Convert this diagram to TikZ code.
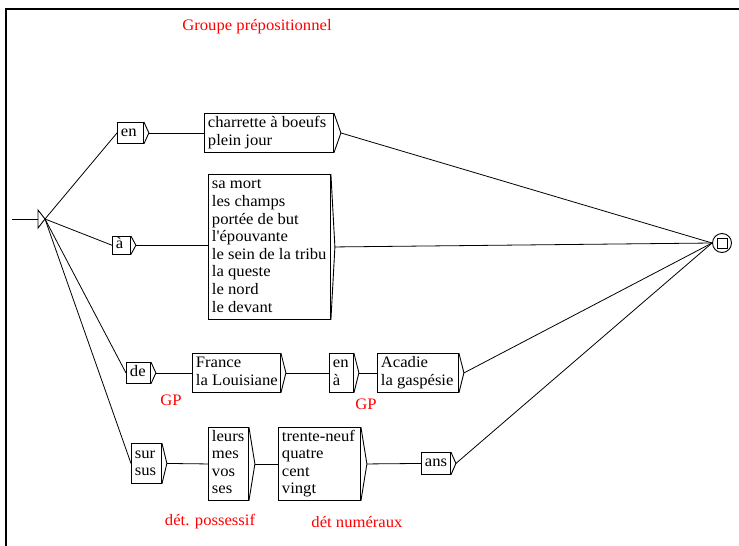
\documentclass[tikz,border=0pt]{standalone}
\usepackage{fontspec}
\setmainfont{Liberation Serif}[FakeStretch=1.04, Ligatures=TeXOff]
\definecolor{ured}{RGB}{255,0,0}
\tikzset{
  edge/.style={line width=0.8pt, black},
  ubx/.style={draw, line width=0.9pt, rectangle, anchor=north west,
              inner xsep=3.5pt, inner ysep=0pt},
  lbl/.style={text=ured, inner sep=0pt},
}
\newcommand\ubox[7][6]{%
  \pgfmathsetmacro\ubtw{#5-7}%
  \node[ubx, minimum width=#5pt, minimum height=#6pt] (#2) at (#3,#4)
    {\makebox[\ubtw pt][l]{\begin{tabular}{@{}l@{}}#7\end{tabular}}};
  \draw[line width=0.9pt] (#2.north east) -- ([xshift=#1pt]#2.east) coordinate (#2-o) -- (#2.south east);
}
\begin{document}
\begin{tikzpicture}[x=1pt, y=-1pt, font=\fontsize{16}{17.6}\selectfont]
\useasboundingbox (0,0) rectangle (739,546);
% frame
\draw[line width=2pt] (6,546) -- (6,9) -- (739,9);
% title
\node[lbl] (title) at (257,27) {Groupe prépositionnel};
% initial state
\coordinate (start) at (12,219);
\coordinate (init) at (45,219);
\draw[edge] (start) -- (38,219);
\draw[line width=0.9pt] (38,210) -- (init) -- (38,228) -- cycle;
% final state
\node[draw, circle, line width=0.9pt, minimum size=19pt, inner sep=0pt] (final) at (722,243) {};
\node[draw, rectangle, line width=0.9pt, minimum size=10pt, inner sep=0pt] (finalsq) at (722,243) {};
% boxes
\ubox[5]{en}{117}{122}{26}{21}{en}
\ubox[7]{charrette}{204}{113}{129}{39}{charrette à boeufs\\plein jour}
\ubox[5]{a}{112}{236}{18}{17}{à}
\ubox[4]{big}{208}{174}{122}{145}{sa mort\\les champs\\portée de but\\l'épouvante\\le sein de la tribu\\la queste\\le nord\\le devant}
\ubox[5]{de}{126}{362}{24}{21}{de}
\ubox[5]{france}{192}{353}{88}{39}{France\\la Louisiane}
\ubox[5]{enA}{329}{353}{24}{39}{en\\à}
\ubox[5]{acadie}{377}{353}{81}{39}{Acadie\\la gaspésie}
\ubox[5]{sur}{131}{443}{30}{40}{sur\\sus}
\ubox[6]{leurs}{208}{427}{40}{73}{leurs\\mes\\vos\\ses}
\ubox[6]{trente}{278}{427}{82}{73}{trente-neuf\\quatre\\cent\\vingt}
\ubox[5]{ans}{421}{452}{29}{22}{ans}
% labels
\node[lbl] (gp1) at (171,400) {GP};
\node[lbl] (gp2) at (366,404) {GP};
\node[lbl] (poss) at (210,522) {dét. possessif};
\node[lbl] (num) at (357,522) {dét numéraux};
% connectors
\draw[edge] (init) -- (en.west);
\draw[edge] (init) -- (a.west);
\draw[edge] (init) -- (de.west);
\draw[edge] (init) -- (sur.west);
\draw[edge] (en-o) -- (charrette.west);
\draw[edge] (charrette-o) -- (final.west);
\draw[edge] (a-o) -- (big.west |- a-o);
\draw[edge] (big-o) -- (final.west);
\draw[edge] (de-o) -- (france.west);
\draw[edge] (france-o) -- (enA.west);
\draw[edge] (enA-o) -- (acadie.west);
\draw[edge] (acadie-o) -- (final.west);
\draw[edge] (sur-o) -- (leurs.west);
\draw[edge] (leurs-o) -- (trente.west);
\draw[edge] (trente-o) -- (ans.west);
\draw[edge] (ans-o) -- (final.west);
\end{tikzpicture}
\end{document}
